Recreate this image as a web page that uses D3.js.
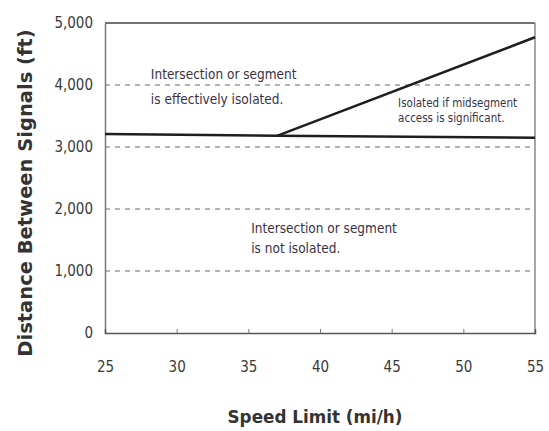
<!DOCTYPE html>
<html>
<head>
<meta charset="utf-8">
<script src="https://cdn.jsdelivr.net/npm/d3@7"></script>
<style>
body { margin: 0; background: #fff; }
svg text { font-family: "DejaVu Sans Condensed", "Liberation Sans Narrow", "DejaVu Sans", sans-serif; }
.tick text { fill: #3a3a3a; }
.title { font-family: "DejaVu Sans", Verdana, sans-serif !important; font-weight: bold; fill: #333; }
.note { fill: #3b3145; }
</style>
</head>
<body>
<svg id="chart" width="549" height="431"></svg>
<script>
(function() {

// speed limit ticks (mi/h) and distance ticks (ft)
var x_ticks = [25, 30, 35, 40, 45, 50, 55];
var y_ticks = [0, 1000, 2000, 3000, 4000, 5000];
var grid_ticks = [1000, 2000, 3000, 4000];

// boundary lines
var flat_speed = [25, 37, 55];
var flat_dist = [3210, 3180, 3150];
var slope_speed = [37, 55];
var slope_dist = [3180, 4770];

var notes = [
  {speed: 28.2, dist: 4090, lines: ["Intersection or segment", "is effectively isolated."], size: 13.5, gap: 1.8},
  {speed: 45.45, dist: 3650, lines: ["Isolated if midsegment", "access is significant."], size: 11.5, gap: 1.35},
  {speed: 35.2, dist: 1620, lines: ["Intersection or segment", "is not isolated."], size: 13.5, gap: 1.55}
];

var svg = d3.select("#chart");
var margin = {top: 23, right: 14, bottom: 98, left: 105};
var width = +svg.attr("width") - margin.left - margin.right,
    height = +svg.attr("height") - margin.top - margin.bottom;

var g = svg.append("g")
  .attr("transform", "translate(" + margin.left + "," + margin.top + ")");

var x_scale = d3.scaleLinear().domain([25, 55]).range([0, width]);
var y_scale = d3.scaleLinear().domain([0, 5000]).range([height, 0]);

// dashed grid
g.selectAll(".grid").data(grid_ticks).enter()
  .append("line")
  .attr("class", "grid")
  .attr("x1", 0).attr("x2", width)
  .attr("y1", function(d) { return y_scale(d); })
  .attr("y2", function(d) { return y_scale(d); })
  .attr("stroke", "#9a9a9a")
  .attr("stroke-width", 1.3)
  .attr("stroke-dasharray", "5,5");

// frame
g.append("line").attr("x1", 0).attr("x2", width).attr("y1", 0).attr("y2", 0)
  .attr("stroke", "#444").attr("stroke-width", 1.5);
g.append("line").attr("x1", width).attr("x2", width).attr("y1", 0).attr("y2", height)
  .attr("stroke", "#888").attr("stroke-width", 1.5);

var y_axis = d3.axisLeft(y_scale).tickValues(y_ticks)
  .tickFormat(d3.format(",")).tickSize(0).tickPadding(12);
var x_axis = d3.axisBottom(x_scale).tickValues(x_ticks)
  .tickSize(-4).tickPadding(28);

g.append("g").attr("class", "y axis").call(y_axis)
  .call(function(a) {
    a.select(".domain").attr("stroke", "#777").attr("stroke-width", 1.5);
    a.selectAll("text").style("font-size", "15px");
  });

g.append("g").attr("class", "x axis")
  .attr("transform", "translate(0," + height + ")")
  .call(x_axis)
  .call(function(a) {
    a.select(".domain").attr("stroke", "#555").attr("stroke-width", 1.5);
    a.selectAll("line").attr("stroke", "#777");
    a.selectAll(".tick").filter(function(d) { return d == 25 || d == 55; }).select("line").remove();
    a.selectAll("text").style("font-size", "15px");
  });

// boundary lines
var line = d3.line()
  .x(function(d) { return x_scale(d[0]); })
  .y(function(d) { return y_scale(d[1]); });

g.append("path")
  .datum(flat_speed.map(function(s, i) { return [s, flat_dist[i]]; }))
  .attr("d", line).attr("fill", "none")
  .attr("stroke", "#1e1e1e").attr("stroke-width", 2.5);

g.append("path")
  .datum(slope_speed.map(function(s, i) { return [s, slope_dist[i]]; }))
  .attr("d", line).attr("fill", "none")
  .attr("stroke", "#1e1e1e").attr("stroke-width", 2.5);

// region notes
notes.forEach(function(n) {
  var t = g.append("text")
    .attr("class", "note")
    .attr("x", x_scale(n.speed))
    .attr("y", y_scale(n.dist))
    .style("font-size", n.size + "px");
  n.lines.forEach(function(l, i) {
    t.append("tspan")
      .attr("x", x_scale(n.speed))
      .attr("dy", i == 0 ? 0 : n.size * n.gap)
      .text(l);
  });
});

// axis titles
svg.append("text")
  .attr("class", "title")
  .attr("transform", "translate(32," + 193 + ") rotate(-90)")
  .style("text-anchor", "middle").style("font-size", "19.5px")
  .text("Distance Between Signals (ft)");

svg.append("text")
  .attr("class", "title")
  .attr("x", 315).attr("y", 423)
  .style("text-anchor", "middle").style("font-size", "16.8px")
  .text("Speed Limit (mi/h)");

})();
</script>
</body>
</html>
